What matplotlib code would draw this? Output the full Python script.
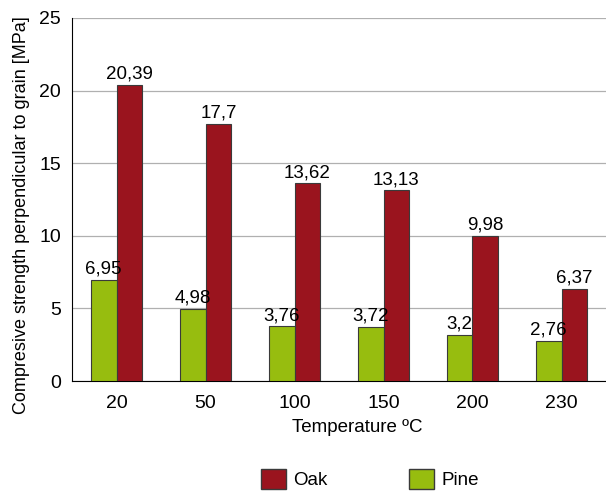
import matplotlib
matplotlib.use('Agg')
import matplotlib.pyplot as plt
import numpy as np
from matplotlib.patches import Patch

plt.rcParams['font.family'] = ['Liberation Sans', 'DejaVu Sans']

temperatures = ['20', '50', '100', '150', '200', '230']
pine = [6.95, 4.98, 3.76, 3.72, 3.2, 2.76]
oak = [20.39, 17.7, 13.62, 13.13, 9.98, 6.37]
pine_labels = ['6,95', '4,98', '3,76', '3,72', '3,2', '2,76']
oak_labels = ['20,39', '17,7', '13,62', '13,13', '9,98', '6,37']

pine_color = '#97bd0f'
oak_color = '#9a141e'

fig = plt.figure(figsize=(6.06, 4.92), dpi=100)
ax = fig.add_axes([72 / 606, 1 - 381 / 492, 534 / 606, 363 / 492])

x = np.arange(len(temperatures))
w = 0.29
ax.bar(x - w / 2, pine, w, color=pine_color, edgecolor='#3a3a3a', linewidth=0.8, zorder=3)
ax.bar(x + w / 2, oak, w, color=oak_color, edgecolor='#3a3a3a', linewidth=0.8, zorder=3)

# value labels, decimal comma as in the source
for xi, v, lab in zip(x, pine, pine_labels):
    ax.text(xi - w / 2, v + 0.15, lab, ha='center', va='bottom', fontsize=13.5)
for xi, v, lab in zip(x, oak, oak_labels):
    ax.text(xi + w / 2, v + 0.15, lab, ha='center', va='bottom', fontsize=13.5)

ax.set_xlim(-0.5, len(temperatures) - 0.5)
ax.set_ylim(0, 25)
ax.set_yticks(np.arange(0, 26, 5))
ax.set_xticks(x)
ax.set_xticklabels(temperatures)
ax.yaxis.grid(True, color='#b0b0b0', linewidth=0.9, zorder=0)
ax.set_axisbelow(True)
ax.tick_params(axis='both', length=0, labelsize=14)
ax.tick_params(axis='y', pad=8)
ax.tick_params(axis='x', pad=10)
for s in ['top', 'right']:
    ax.spines[s].set_visible(False)
ax.spines['left'].set_color('black')
ax.spines['bottom'].set_color('black')

fig.text(357 / 606, 1 - 428 / 492, 'Temperature ºC', ha='center', va='center', fontsize=13.5)
fig.text(22 / 606, 1 - 215 / 492, 'Compresive strength perpendicular to grain [MPa]',
         ha='center', va='center', rotation=90, fontsize=13)

handles = [Patch(facecolor=oak_color, edgecolor='#3a3a3a'),
           Patch(facecolor=pine_color, edgecolor='#3a3a3a')]
fig.legend(handles, ['Oak', 'Pine'], loc='center', bbox_to_anchor=(370 / 606, 1 - 479 / 492),
           ncol=2, frameon=False, fontsize=13.5, handlelength=1.3, handleheight=1.25,
           columnspacing=4.35, handletextpad=0.4, borderpad=0)

fig.savefig('out.png', dpi=100)
